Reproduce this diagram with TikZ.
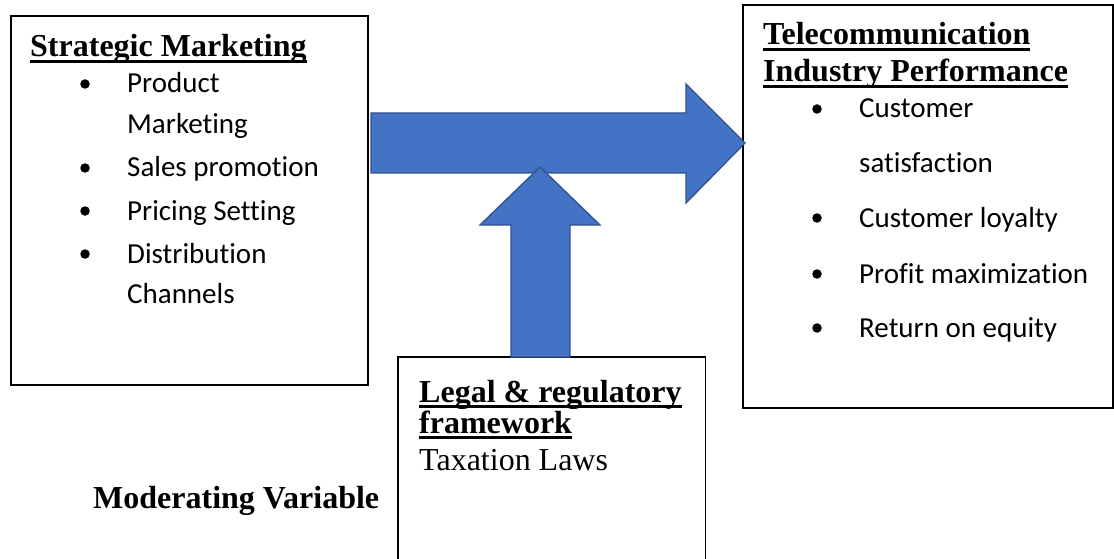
\documentclass[tikz,border=0pt]{standalone}
\usepackage{fontspec}
\setmainfont{Liberation Serif}
\newfontfamily\calfont[Ligatures=NoCommon]{Carlito}
\definecolor{arrowfill}{HTML}{4472C4}
\definecolor{arrowline}{HTML}{2F528F}
\newcommand\ulx[1]{\setbox0=\hbox{#1}\rlap{\rule[-6pt]{\wd0}{2.8pt}}\box0}
\tikzset{
  box/.style={draw=black, line width=1.8pt, fill=none, inner sep=0pt, anchor=north west},
  head/.style={anchor=base west, inner sep=0pt, font=\fontsize{32}{38}\selectfont\bfseries},
  plain/.style={anchor=base west, inner sep=0pt, font=\fontsize{32}{38}\selectfont},
  item/.style={anchor=base west, inner sep=0pt, font=\calfont\fontsize{29}{35}\selectfont},
  dot/.style={circle, fill=black, inner sep=0pt, minimum size=9.5pt},
  blockarrow/.style={fill=arrowfill, draw=arrowline, line width=1.3pt, line join=miter}
}
\begin{document}
\begin{tikzpicture}[x=1pt,y=-1pt]
\clip (0,0) rectangle (1114,559);
\fill[white] (0,0) rectangle (1114,559);
% boxes
\node[box, minimum width=357pt, minimum height=369pt] (sm) at (10,15) {};
\node[box, minimum width=370pt, minimum height=403pt] (tp) at (742,4) {};
\node[inner sep=0pt, minimum width=307pt, minimum height=220pt, anchor=north west] (lr) at (398,357) {};
\draw[line width=1.8pt] (lr.south west) -- (lr.north west) -- (lr.north east) -- (lr.south east);
% horizontal block arrow
\path[blockarrow] (371,113) -- (686,113) -- (686,84) -- (745,143) -- (686,203) -- (686,173) -- (371,173) -- cycle;
% vertical block arrow
\path[blockarrow] (511,357) -- (511,225) -- (480,225) -- (540,167) -- (600,225) -- (570,225) -- (570,357) -- cycle;
% left box text
\node[head] (smh) at (30,57) {\ulx{Strategic Marketing}};
\node[dot] (b1) at (85,84) {};
\node[item] (t1) at (127,93) {Product};
\node[item] (t1b) at (127,134) {Marketing};
\node[dot] (b2) at (85,168) {};
\node[item] (t2) at (127,177) {Sales promotion};
\node[dot] (b3) at (85,211) {};
\node[item] (t3) at (127,220) {Pricing Setting};
\node[dot] (b4) at (85,254) {};
\node[item] (t4) at (127,263) {Distribution};
\node[item] (t4b) at (127,303) {Channels};
% right box text
\node[head] (tph1) at (763,45) {\ulx{Telecommunication}};
\node[head] (tph2) at (763,82) {\ulx{Industry Performance}};
\node[dot] (c1) at (817,109) {};
\node[item] (u1) at (859,118) {Customer};
\node[item] (u1b) at (859,172) {satisfaction};
\node[dot] (c2) at (817,218) {};
\node[item] (u2) at (859,227) {Customer loyalty};
\node[dot] (c3) at (817,274) {};
\node[item] (u3) at (859,283) {Profit maximization};
\node[dot] (c4) at (817,328) {};
\node[item] (u4) at (859,337) {Return on equity};
% bottom box text
\node[head] (lrh1) at (419,402) {\ulx{Legal \& regulatory}};
\node[head] (lrh2) at (419,433) {\ulx{framework}};
\node[plain] (lrt) at (419,470) {Taxation Laws};
\node[head] (mv) at (93,508) {Moderating Variable};
\end{tikzpicture}
\end{document}
